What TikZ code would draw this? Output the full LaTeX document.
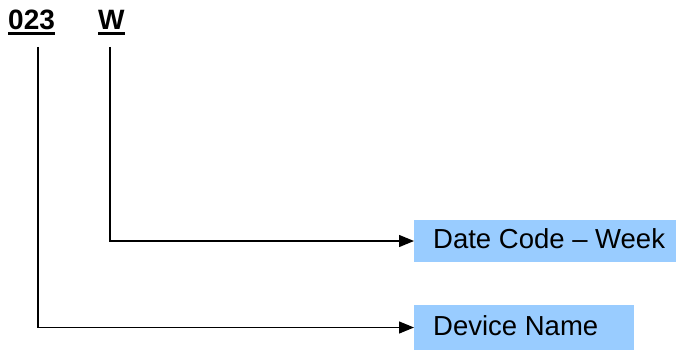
\documentclass[tikz,border=0pt]{standalone}
\usepackage{fontspec}
\setmainfont{Liberation Sans}
\usetikzlibrary{arrows.meta,positioning}
\definecolor{fieldblue}{HTML}{99CCFF}
% thick underline for the marking code
\newsavebox{\codebox}
\newcommand{\codeline}[1]{\sbox{\codebox}{#1}\rlap{\rule[-5pt]{\wd\codebox}{3pt}}\usebox{\codebox}}

\begin{document}
\begin{tikzpicture}[x=1pt,y=-1pt,
  code/.style={font=\fontsize{28}{30}\selectfont\bfseries,inner sep=0pt,anchor=base west},
  field/.style={fill=fieldblue,anchor=west,font=\fontsize{27.5}{30}\selectfont,
    align=flush left,inner xsep=19pt,inner ysep=0pt,text height=20pt,text depth=5pt},
  lead/.style={line width=1.3pt,-{Triangle[length=15pt,width=12pt]}}]
\useasboundingbox (0,0) rectangle (676,350);
% marking code
\node[code] (num) at (8,30) {\codeline{023}};
\node[code] (wk) at (98,30) {\codeline{W}};
% fields
\node[field,text width=224pt,minimum height=42pt] (date) at (414,241) {\mbox{Date Code -- Week}};
\node[field,text width=182pt,minimum height=45pt] (dev) at (414,327.5) {\mbox{Device Name}};
% leads
\coordinate (numdrop) at (38,47);
\coordinate (wkdrop) at (110,47);
\draw[lead] (wkdrop) |- (date.west);
\draw[lead] (numdrop) |- (dev.west);
\end{tikzpicture}
\end{document}
